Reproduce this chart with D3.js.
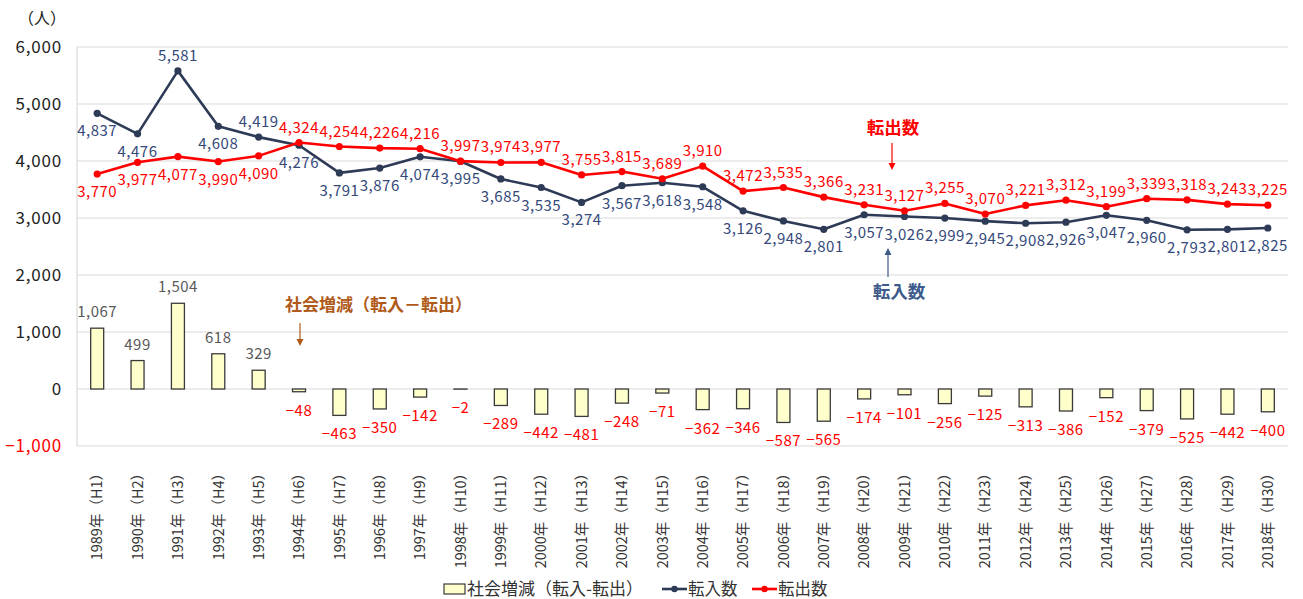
<!DOCTYPE html>
<html>
<head>
<meta charset="utf-8">
<script src="https://cdn.jsdelivr.net/npm/d3@7"></script>
<style>
  body { margin: 0; background: #fff; }
  svg text { font-family: "Noto Sans CJK JP", "Noto Sans", sans-serif; }
</style>
</head>
<body>
<div id="viz"></div>
<script>
const years = ['1989年（H1）', '1990年（H2）', '1991年（H3）', '1992年（H4）', '1993年（H5）',
  '1994年（H6）', '1995年（H7）', '1996年（H8）', '1997年（H9）', '1998年（H10）',
  '1999年（H11）', '2000年（H12）', '2001年（H13）', '2002年（H14）', '2003年（H15）',
  '2004年（H16）', '2005年（H17）', '2006年（H18）', '2007年（H19）', '2008年（H20）',
  '2009年（H21）', '2010年（H22）', '2011年（H23）', '2012年（H24）', '2013年（H25）',
  '2014年（H26）', '2015年（H27）', '2016年（H28）', '2017年（H29）', '2018年（H30）'];

const inflow = [4837, 4476, 5581, 4608, 4419, 4276, 3791, 3876, 4074, 3995,
  3685, 3535, 3274, 3567, 3618, 3548, 3126, 2948, 2801, 3057,
  3026, 2999, 2945, 2908, 2926, 3047, 2960, 2793, 2801, 2825];

const outflow = [3770, 3977, 4077, 3990, 4090, 4324, 4254, 4226, 4216, 3997,
  3974, 3977, 3755, 3815, 3689, 3910, 3472, 3535, 3366, 3231,
  3127, 3255, 3070, 3221, 3312, 3199, 3339, 3318, 3243, 3225];

const netChange = [1067, 499, 1504, 618, 329, -48, -463, -350, -142, -2,
  -289, -442, -481, -248, -71, -362, -346, -587, -565, -174,
  -101, -256, -125, -313, -386, -152, -379, -525, -442, -400];

const yTicks = [-1000, 0, 1000, 2000, 3000, 4000, 5000, 6000];

// label side per point: 1 = above, -1 = below
const inflowSide = inflow.map((d, i) => (i === 2 || i === 4) ? 1 : -1);
const outflowSide = outflow.map((d, i) => i < 5 ? -1 : 1);

const width = 1303, height = 599;
const plotLeft = 77, plotRight = 1288, plotTop = 47, plotBottom = 446;

const navy = '#2e3b57';
const navyText = '#34497a';
const red = '#ff0000';
const fmt = d3.format(',');

const svg = d3.select('#viz').append('svg')
  .attr('width', width)
  .attr('height', height);

const x = d3.scaleBand()
  .domain(years)
  .range([plotLeft, plotRight]);

const y = d3.scaleLinear()
  .domain([-1000, 6000])
  .range([plotBottom, plotTop]);

const cx = i => x(years[i]) + x.bandwidth() / 2;

// grid
svg.append('g')
  .selectAll('line')
  .data(yTicks)
  .enter()
  .append('line')
  .attr('x1', plotLeft)
  .attr('x2', plotRight)
  .attr('y1', d => y(d))
  .attr('y2', d => y(d))
  .attr('stroke', '#d9d9d9')
  .attr('stroke-width', 1.2);

svg.append('line')
  .attr('x1', plotLeft).attr('x2', plotLeft)
  .attr('y1', plotTop).attr('y2', plotBottom)
  .attr('stroke', '#d9d9d9')
  .attr('stroke-width', 1.2);

// y axis labels
svg.append('g')
  .selectAll('text')
  .data(yTicks)
  .enter()
  .append('text')
  .attr('x', 62)
  .attr('y', d => y(d))
  .attr('dy', '0.36em')
  .attr('text-anchor', 'end')
  .attr('font-size', 17)
  .attr('letter-spacing', 0.8)
  .attr('fill', d => d < 0 ? red : '#222')
  .text(d => fmt(d));

svg.append('text')
  .attr('x', 42)
  .attr('y', 18)
  .attr('dy', '0.36em')
  .attr('text-anchor', 'middle')
  .attr('font-size', 16)
  .attr('fill', '#222')
  .text('（人）');

// x labels
svg.append('g')
  .selectAll('text')
  .data(years)
  .enter()
  .append('text')
  .attr('transform', d => `translate(${x(d) + x.bandwidth() / 2},466) rotate(-90)`)
  .attr('dy', '0.36em')
  .attr('text-anchor', 'end')
  .attr('font-size', 14.5)
  .attr('fill', '#333')
  .text(d => d);

// bars
const barW = 13;
svg.append('g')
  .selectAll('rect')
  .data(netChange)
  .enter()
  .append('rect')
  .attr('x', (d, i) => cx(i) - barW / 2)
  .attr('y', d => y(Math.max(d, 0)))
  .attr('width', barW)
  .attr('height', d => Math.abs(y(d) - y(0)))
  .attr('fill', '#ffffcc')
  .attr('stroke', '#3a3a3a')
  .attr('stroke-width', 1.3);

svg.append('g')
  .selectAll('text')
  .data(netChange)
  .enter()
  .append('text')
  .attr('x', (d, i) => cx(i))
  .attr('y', d => d >= 0 ? y(d) - 11 : y(d) + 24)
  .attr('text-anchor', 'middle')
  .attr('font-size', 15)
  .attr('letter-spacing', 0.5)
  .attr('fill', d => d >= 0 ? '#595959' : red)
  .text(d => fmt(d));

// lines
const line = d3.line()
  .x((d, i) => cx(i))
  .y(d => y(d));

function drawSeries(values, color, textColor, sides) {
  svg.append('path')
    .attr('d', line(values))
    .attr('fill', 'none')
    .attr('stroke', color)
    .attr('stroke-width', 2.6)
    .attr('stroke-linejoin', 'round');

  svg.append('g')
    .selectAll('circle')
    .data(values)
    .enter()
    .append('circle')
    .attr('cx', (d, i) => cx(i))
    .attr('cy', d => y(d))
    .attr('r', 3.6)
    .attr('fill', color);

  svg.append('g')
    .selectAll('text')
    .data(values)
    .enter()
    .append('text')
    .attr('x', (d, i) => cx(i))
    .attr('y', (d, i) => sides[i] > 0 ? y(d) - 10 : y(d) + 23)
    .attr('text-anchor', 'middle')
    .attr('font-size', 15)
    .attr('letter-spacing', 0.5)
    .attr('fill', textColor)
    .text(d => fmt(d));
}

drawSeries(inflow, navy, navyText, inflowSide);
drawSeries(outflow, red, red, outflowSide);

// annotations
function arrow(x0, y0, y1, color) {
  const dir = y1 > y0 ? 1 : -1;
  svg.append('line')
    .attr('x1', x0).attr('x2', x0)
    .attr('y1', y0).attr('y2', y1 - dir * 5)
    .attr('stroke', color)
    .attr('stroke-width', 1.2);
  svg.append('path')
    .attr('d', `M${x0 - 3.5},${y1 - dir * 7}L${x0 + 3.5},${y1 - dir * 7}L${x0},${y1}Z`)
    .attr('fill', color);
}

svg.append('text')
  .attr('x', 893).attr('y', 128).attr('dy', '0.36em')
  .attr('text-anchor', 'middle')
  .attr('font-size', 17.5).attr('font-weight', 'bold')
  .attr('fill', red)
  .text('転出数');
arrow(892, 143, 170, red);

svg.append('text')
  .attr('x', 899).attr('y', 292).attr('dy', '0.36em')
  .attr('text-anchor', 'middle')
  .attr('font-size', 17.5).attr('font-weight', 'bold')
  .attr('fill', '#3d5a8c')
  .text('転入数');
arrow(888, 277, 248, '#3d5a8c');

svg.append('text')
  .attr('x', 285).attr('y', 305).attr('dy', '0.36em')
  .attr('font-size', 17).attr('font-weight', 'bold')
  .attr('fill', '#b05a1a')
  .text('社会増減（転入－転出）');
arrow(300, 323, 346, '#b05a1a');

// legend
const legend = svg.append('g').attr('transform', 'translate(0,589)');
legend.append('rect')
  .attr('x', 444).attr('y', -5).attr('width', 21).attr('height', 10)
  .attr('fill', '#ffffcc').attr('stroke', '#3a3a3a').attr('stroke-width', 1.2);
legend.append('text')
  .attr('x', 467).attr('dy', '0.36em').attr('font-size', 17).attr('fill', '#333')
  .text('社会増減（転入-転出）');

[[662, navy, '転入数'], [752, red, '転出数']].forEach(([lx, c, t]) => {
  legend.append('line')
    .attr('x1', lx).attr('x2', lx + 25)
    .attr('stroke', c).attr('stroke-width', 2.6);
  legend.append('circle')
    .attr('cx', lx + 12.5).attr('r', 3.2).attr('fill', c);
  legend.append('text')
    .attr('x', lx + 26).attr('dy', '0.36em').attr('font-size', 16.5).attr('fill', '#333')
    .text(t);
});
</script>
</body>
</html>
